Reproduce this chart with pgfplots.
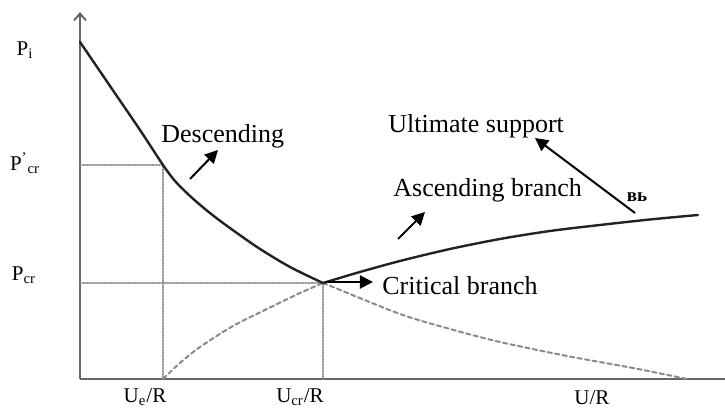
\documentclass[border=0pt]{standalone}
\usepackage{pgfplots}
\pgfplotsset{compat=1.18}
\usepackage{fontspec}
\setmainfont{Liberation Serif}
\usetikzlibrary{arrows.meta}
\definecolor{curve}{HTML}{222222}
\definecolor{axisgray}{HTML}{666666}
\definecolor{dashgray}{HTML}{8A8A8A}
\definecolor{dotgray}{HTML}{9A9A9A}
\begin{document}
\begin{tikzpicture}
\useasboundingbox (-40pt,-15.5pt) rectangle (322.5pt,189.5pt);
\begin{axis}[
  x=0.5pt, y=0.5pt,
  xmin=0, xmax=645, ymin=0, ymax=367,
  enlargelimits=false,
  axis x line=bottom, axis y line=left,
  x axis line style={-, line width=1pt, draw=axisgray},
  y axis line style={-{Straight Barb[length=3.5pt,width=6pt]}, line width=1pt, draw=axisgray},
  xtick=\empty, ytick=\empty,
  clip=false,
  every axis plot/.append style={line cap=round},
]
% dotted guide lines
\addplot[dotgray, line width=0.9pt, dash pattern=on 0.8pt off 0.7pt] coordinates {(0,214) (83,214) (83,0)};
\addplot[dotgray, line width=0.9pt, dash pattern=on 0.8pt off 0.7pt] coordinates {(0,96) (243,96) (243,0)};
% dashed curves
\addplot[dashgray, line width=1pt, dash pattern=on 2.2pt off 1.6pt, smooth] coordinates {
 (83,0) (100,16) (120,32) (153,53) (187,70) (220,86) (243,96)};
\addplot[dashgray, line width=1pt, dash pattern=on 2.2pt off 1.6pt, smooth] coordinates {
 (243,96) (253,92) (320,65) (370,50) (420,37) (487,23) (553,11) (607,0)};
% descending branch
\addplot[curve, line width=1.2pt, smooth] coordinates {
 (0,337) (30,293) (60,249) (83,214) (95,198) (110,183) (125,170) (143,156)
 (177,132) (210,112) (243,96)};
% ascending branch
\addplot[curve, line width=1.2pt, smooth] coordinates {
 (243,96) (280,107) (320,118) (370,130) (420,140) (470,148) (520,154) (570,159.5) (618,164)};
% arrows
\draw[-{Triangle[length=6.5pt,width=6.5pt]}, line width=1pt] (axis cs:110,200) -- (axis cs:138,229);
\draw[-{Triangle[length=6.5pt,width=6.5pt]}, line width=1pt] (axis cs:318,140) -- (axis cs:345,167);
\draw[-{Triangle[length=6.5pt,width=6.5pt]}, line width=1pt] (axis cs:555,166) -- (axis cs:455,241);
\draw[-{Triangle[length=6.5pt,width=6.5pt]}, line width=1pt] (axis cs:245,97) -- (axis cs:293,97);
% annotations
\node[anchor=base west, inner sep=0pt, font=\fontsize{13}{15}\selectfont] at (axis cs:81,236) {Descending};
\node[anchor=base west, inner sep=0pt, font=\fontsize{13}{15}\selectfont] at (axis cs:308,246) {Ultimate support};
\node[anchor=base west, inner sep=0pt, font=\fontsize{13}{15}\selectfont] at (axis cs:313,182) {Ascending branch};
\node[anchor=base west, inner sep=0pt, font=\fontsize{13}{15}\selectfont] at (axis cs:302,84) {Critical branch};
\node[inner sep=0pt, font=\fontsize{9.5}{11}\selectfont\bfseries] at (axis cs:557,182) {вь};
% axis labels
\node[inner sep=0pt, font=\fontsize{10.5}{12}\selectfont] at (axis cs:-55,329) {P\textsubscript{i}};
\node[inner sep=0pt, font=\fontsize{10.5}{12}\selectfont] at (axis cs:-55,216) {P\textsuperscript{'}\textsubscript{cr}};
\node[inner sep=0pt, font=\fontsize{10.5}{12}\selectfont] at (axis cs:-56,104) {P\textsubscript{cr}};
\node[inner sep=0pt, font=\fontsize{10.5}{12}\selectfont] at (axis cs:65,-18) {U\textsubscript{e}/R};
\node[inner sep=0pt, font=\fontsize{10.5}{12}\selectfont] at (axis cs:220,-18) {U\textsubscript{cr}/R};
\node[inner sep=0pt, font=\fontsize{10.5}{12}\selectfont] at (axis cs:512,-19) {U/R};
\end{axis}
\end{tikzpicture}
\end{document}
